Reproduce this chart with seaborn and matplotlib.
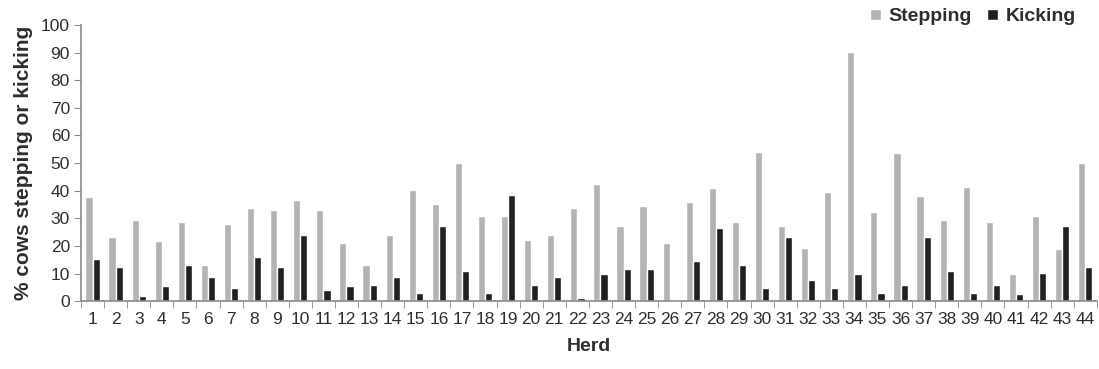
import numpy as np
import pandas as pd
import seaborn as sns
import matplotlib.pyplot as plt

herds = [str(i) for i in range(1, 45)]
stepping = [37.8, 23.1, 29.3, 21.6, 28.7, 13.0, 28.0, 33.6, 33.0, 36.6,
            33.0, 20.9, 13.0, 23.8, 40.1, 35.1, 50.0, 30.8, 30.8, 22.3,
            23.8, 33.7, 42.3, 27.3, 34.4, 20.9, 35.9, 40.8, 28.7, 54.2,
            27.3, 19.4, 39.4, 90.3, 32.2, 53.5, 37.9, 29.3, 41.4, 28.7,
            9.7, 30.8, 18.8, 50.0]
kicking = [15.3, 12.4, 1.8, 5.4, 13.2, 8.9, 4.6, 15.9, 12.4, 23.8,
           3.9, 5.4, 6.0, 8.9, 3.1, 27.3, 11.0, 3.1, 38.6, 6.0,
           8.9, 1.1, 9.7, 11.7, 11.7, 0.0, 14.5, 26.6, 13.0, 4.6,
           23.1, 7.5, 4.6, 9.7, 3.1, 6.0, 23.1, 11.0, 3.1, 6.0,
           2.5, 10.3, 27.3, 12.4]

df = pd.DataFrame({
    "Herd": herds * 2,
    "value": stepping + kicking,
    "behaviour": ["Stepping"] * 44 + ["Kicking"] * 44,
})

sns.set_style("white")
plt.rcParams['font.family'] = ['Liberation Sans', 'DejaVu Sans']
text_col = "#2e2e2e"
axis_col = "#8a8a8a"

fig, ax = plt.subplots(figsize=(10.99, 3.69), dpi=100)
fig.subplots_adjust(left=0.0737, right=0.998, top=0.932, bottom=0.184)

sns.barplot(data=df, x="Herd", y="value", hue="behaviour", order=herds,
            hue_order=["Stepping", "Kicking"],
            palette={"Stepping": "#b2b3b5", "Kicking": "#231f20"},
            width=0.62, saturation=1, ax=ax, legend=True)

ax.set_ylim(0, 100)
ax.set_xlim(-0.5, 43.5)
ax.set_yticks(np.arange(0, 101, 10))
ax.set_xticks(np.arange(-0.5, 44, 1), minor=True)
ax.tick_params(axis="x", which="major", length=0, labelsize=12.5, colors=text_col, pad=8)
ax.tick_params(axis="x", which="minor", length=5, color=axis_col, direction="out", bottom=True)
ax.tick_params(axis="y", length=5, color=axis_col, direction="out", left=True,
               labelsize=12.5, labelcolor=text_col, pad=3)

sns.despine(ax=ax)
for s in ["left", "bottom"]:
    ax.spines[s].set_color(axis_col)
    ax.spines[s].set_linewidth(1.2)

ax.set_xlabel("Herd", fontsize=14, fontweight="bold", color=text_col, labelpad=8)
ax.set_ylabel("% cows stepping or kicking", fontsize=15, fontweight="bold",
              color=text_col, labelpad=6)

handles, labels = ax.get_legend_handles_labels()
ax.legend_.remove()
leg = fig.legend(handles, labels, loc="upper right", bbox_to_anchor=(0.995, 1.025),
                 ncol=2, frameon=False, handlelength=0.55, handleheight=0.55,
                 handletextpad=0.4, columnspacing=0.8,
                 prop={"weight": "bold", "size": 14})
for t in leg.get_texts():
    t.set_color(text_col)

fig.savefig("out.png", dpi=100)
